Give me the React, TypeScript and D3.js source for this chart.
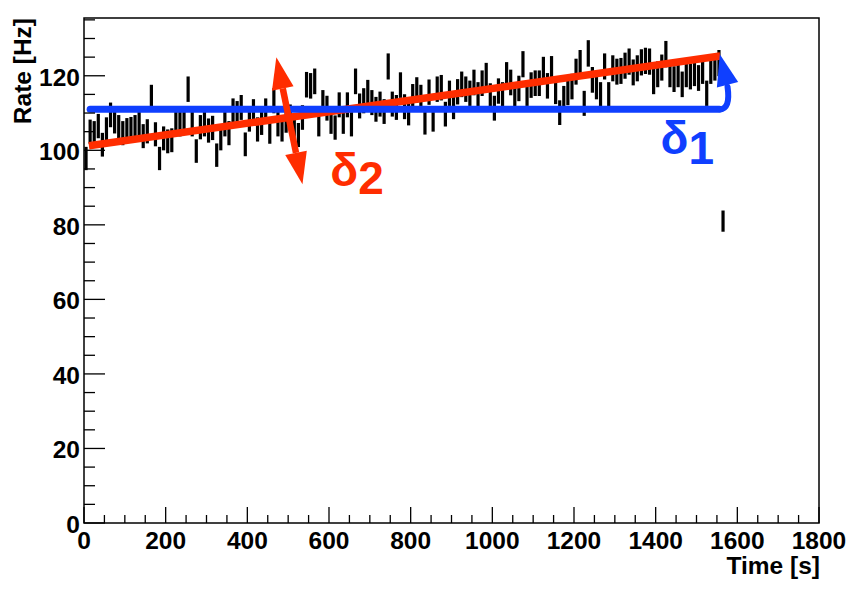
import React from 'react';
import * as d3 from 'd3';

// ---- data ----
const BIN_WIDTH = 10; // s
const RATES = [
  97.8, 105.0, 104.6, 106.5, 101.5, 105.6, 109.5, 107.8, 106.2, 104.6,
  105.4, 105.7, 106.2, 107.0, 103.8, 105.1, 114.2, 104.3, 97.8, 103.2,
  102.4, 102.7, 107.5, 107.0, 107.5, 116.4, 107.0, 99.8, 106.2, 107.0,
  105.3, 106.0, 98.7, 103.2, 107.0, 104.6, 110.6, 109.9, 111.5, 101.6,
  108.3, 110.4, 105.6, 107.4, 110.6, 105.0, 113.3, 107.0, 105.6, 108.0,
  109.0, 106.5, 104.1, 108.8, 117.6, 117.3, 118.5, 107.0, 112.8, 111.3,
  107.7, 106.1, 112.2, 107.7, 112.2, 107.0, 118.5, 111.9, 113.3, 115.5,
  112.8, 111.0, 112.4, 110.4, 122.5, 112.4, 111.5, 117.5, 111.7, 110.0,
  114.4, 116.2, 114.2, 107.5, 115.6, 108.3, 116.4, 116.8, 109.7, 115.3,
  111.7, 115.7, 117.7, 116.4, 115.3, 118.2, 114.9, 118.0, 120.0, 114.6,
  111.3, 115.9, 114.9, 120.2, 118.2, 114.1, 116.6, 123.1, 115.3, 117.5,
  118.0, 118.0, 121.6, 117.3, 121.8, 115.8, 110.1, 113.9, 115.5, 117.1,
  121.1, 123.4, 112.6, 126.0, 118.9, 117.1, 114.9, 122.5, 114.9, 122.0,
  121.1, 121.3, 122.7, 123.8, 120.9, 122.0, 123.6, 124.0, 123.8, 118.5,
  120.4, 122.2, 125.8, 120.4, 119.1, 120.4, 117.7, 120.4, 119.8, 120.7,
  119.4, 121.3, 115.3, 121.3, 122.2, 123.4, 81.0,
];
const X_DOMAIN = [0, 1800];
const Y_DOMAIN = [0, 135.5];
const X_TICKS = [0, 200, 400, 600, 800, 1000, 1200, 1400, 1600, 1800];
const Y_TICKS = [0, 20, 40, 60, 80, 100, 120];
const X_MINOR_STEP = 50;
const Y_MINOR_STEP = 5;
const X_TITLE = 'Time [s]';
const Y_TITLE = 'Rate [Hz]';

// annotation lines (data units)
const FIT_T = [12, 1558];
const FIT_V = [101.2, 125.3];
const FLAT_T = [15, 1556];
const FLAT_V = 111;
const D1_CURVE = [[1556, 111], [1584, 111], [1576, 117.6]]; // start, control, arrow base
const D1_TIP = [1557, 125.8];
const D2_TOP = [471, 125.0];
const D2_BOTTOM = [535, 90.9];
const D1_LABEL = { t: 1412, v: 98.9, text: 'δ', sub: '1' };
const D2_LABEL = { t: 603, v: 90.3, text: 'δ', sub: '2' };

const RED = '#ff2d00';
const BLUE = '#0f3fff';
const FONT = "'Liberation Sans', Arial, Helvetica, sans-serif";

const W = 861;
const H = 591;
const LEFT = 84, RIGHT = 819, TOP = 18, BOTTOM = 523;

function arrowHead(tip: number[], base: number[], half: number) {
  const dx = tip[0] - base[0];
  const dy = tip[1] - base[1];
  const len = Math.hypot(dx, dy);
  const px = -dy / len, py = dx / len;
  return `M${tip[0]},${tip[1]}L${base[0] + px * half},${base[1] + py * half}L${base[0] - px * half},${base[1] - py * half}Z`;
}

export default function App() {
  const x = d3.scaleLinear().domain(X_DOMAIN).range([LEFT, RIGHT]);
  const y = d3.scaleLinear().domain(Y_DOMAIN).range([BOTTOM, TOP]);

  const bins = RATES.map((r, i) => {
    const t = (i + 0.5) * BIN_WIDTH;
    const err = Math.sqrt(r * BIN_WIDTH) / BIN_WIDTH;
    return { t, r, err };
  });

  const xMinor = d3.range(X_DOMAIN[0], X_DOMAIN[1] + 0.1, X_MINOR_STEP).filter(v => v % 200 !== 0);
  const yMinor = d3.range(Y_DOMAIN[0], Y_DOMAIN[1], Y_MINOR_STEP).filter(v => v % 20 !== 0);

  const line = d3.line<number[]>().x(d => x(d[0])).y(d => y(d[1]));

  // delta1 curved arrow
  const c0 = [x(D1_CURVE[0][0]), y(D1_CURVE[0][1])];
  const c1 = [x(D1_CURVE[1][0]), y(D1_CURVE[1][1])];
  const c2 = [x(D1_CURVE[2][0]), y(D1_CURVE[2][1])];
  const tip1 = [x(D1_TIP[0]), y(D1_TIP[1])];
  const curvePath = `M${c0[0]},${c0[1]}Q${c1[0]},${c1[1]} ${c2[0]},${c2[1] + 2}`;

  // delta2 double arrow
  const a = [x(D2_TOP[0]), y(D2_TOP[1])];
  const b = [x(D2_BOTTOM[0]), y(D2_BOTTOM[1])];
  const L = Math.hypot(b[0] - a[0], b[1] - a[1]);
  const ux = (b[0] - a[0]) / L, uy = (b[1] - a[1]) / L;
  const headLen = 32;
  const baseA = [a[0] + ux * headLen, a[1] + uy * headLen];
  const baseB = [b[0] - ux * headLen, b[1] - uy * headLen];

  return (
    <svg width={W} height={H} style={{ position: 'fixed', left: 0, top: 0, background: '#fff' }}
      fontFamily={FONT} fontWeight="bold">
      <rect x={0} y={0} width={W} height={H} fill="#fff" />
      {/* error bars */}
      <g stroke="#000" strokeWidth={3.2}>
        {bins.map((d, i) => (
          <line key={i} x1={x(d.t)} x2={x(d.t)} y1={y(d.r + d.err)} y2={y(d.r - d.err)} />
        ))}
      </g>
      {/* fit line */}
      <path d={line([[FIT_T[0], FIT_V[0]], [FIT_T[1], FIT_V[1]]]) || ''} stroke={RED} strokeWidth={7.5} fill="none" />
      {/* flat line + delta1 arrow */}
      <path d={line([[FLAT_T[0], FLAT_V], [FLAT_T[1], FLAT_V]]) || ''} stroke={BLUE} strokeWidth={7} strokeLinecap="round" fill="none" />
      <path d={curvePath} stroke={BLUE} strokeWidth={6} fill="none" strokeLinecap="round" />
      <path d={arrowHead(tip1, c2, 11)} fill={BLUE} />
      {/* delta2 double arrow */}
      <line x1={baseA[0]} y1={baseA[1]} x2={baseB[0]} y2={baseB[1]} stroke={RED} strokeWidth={6.5} />
      <path d={arrowHead(a, baseA, 11)} fill={RED} />
      <path d={arrowHead(b, baseB, 11)} fill={RED} />
      {/* labels */}
      <text x={x(D1_LABEL.t)} y={y(D1_LABEL.v)} fill={BLUE} fontSize={46}>
        {D1_LABEL.text}<tspan dy={10} fontSize={46}>{D1_LABEL.sub}</tspan>
      </text>
      <text x={x(D2_LABEL.t)} y={y(D2_LABEL.v)} fill={RED} fontSize={46}>
        {D2_LABEL.text}<tspan dy={8} fontSize={46}>{D2_LABEL.sub}</tspan>
      </text>
      {/* frame */}
      <rect x={LEFT} y={TOP} width={RIGHT - LEFT} height={BOTTOM - TOP} fill="none" stroke="#000" strokeWidth={1.5} />
      {/* ticks */}
      <g stroke="#000" strokeWidth={1.3}>
        {X_TICKS.map(v => <line key={'xm' + v} x1={x(v)} x2={x(v)} y1={BOTTOM} y2={BOTTOM - 16} />)}
        {xMinor.map(v => <line key={'xn' + v} x1={x(v)} x2={x(v)} y1={BOTTOM} y2={BOTTOM - 8} />)}
        {Y_TICKS.map(v => <line key={'ym' + v} x1={LEFT} x2={LEFT + 21} y1={y(v)} y2={y(v)} />)}
        {yMinor.map(v => <line key={'yn' + v} x1={LEFT} x2={LEFT + 11} y1={y(v)} y2={y(v)} />)}
      </g>
      <g fontSize={24.5} fill="#000">
        {X_TICKS.map(v => (
          <text key={'xl' + v} x={x(v)} y={BOTTOM + 26} textAnchor="middle">{v}</text>
        ))}
        {Y_TICKS.map(v => (
          <text key={'yl' + v} x={LEFT - 4} y={y(v) + 10} textAnchor="end">{v}</text>
        ))}
        <text x={RIGHT + 1} y={BOTTOM + 51} textAnchor="end">{X_TITLE}</text>
        <text transform={`translate(31,${TOP}) rotate(-90)`} textAnchor="end">{Y_TITLE}</text>
      </g>
    </svg>
  );
}
